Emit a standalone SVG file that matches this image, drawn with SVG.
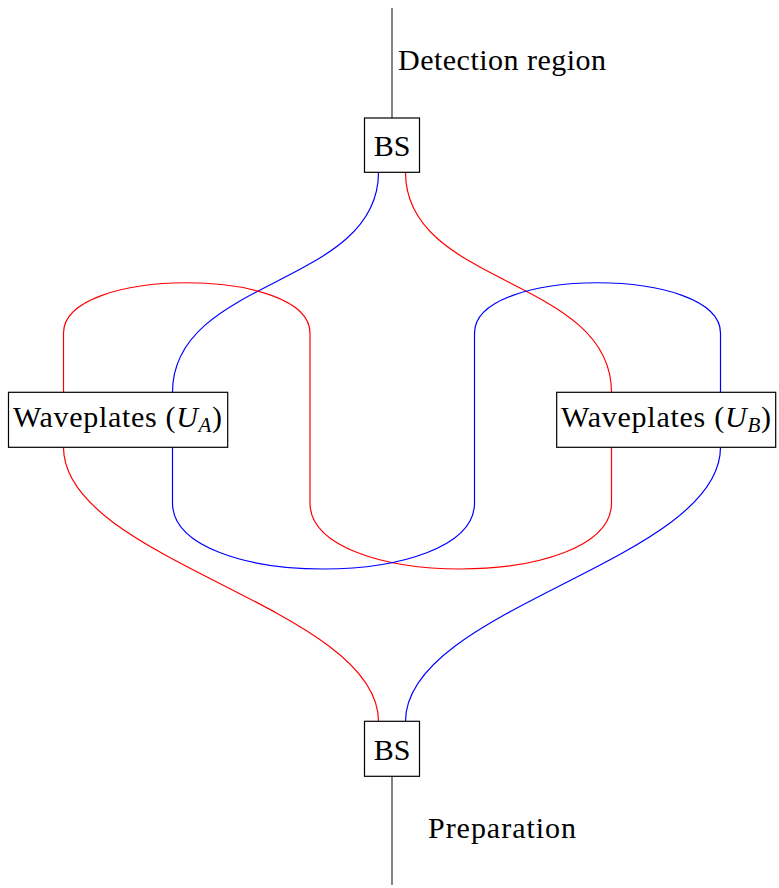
<svg xmlns="http://www.w3.org/2000/svg" width="779" height="888" viewBox="0 0 779 888">
<style>
.box{fill:#fff;stroke:#000;stroke-width:1.2}
.lbl{font-family:"Liberation Serif","Times New Roman",serif;font-size:30px;fill:#000}
.w{fill:none;stroke-width:1.2}
.r{stroke:#ff0000}
.b{stroke:#0000ff}
.k{stroke:#333;stroke-width:1.2;fill:none}
</style>
<rect width="779" height="888" fill="#fff"/>
<g id="connectors">
<path class="k" d="M392,8 V118"/>
<path class="k" d="M392,776.3 V885"/>
<path class="w b" d="M378.5,172.3 C378.5,287 172.5,277 172.5,392.3"/>
<path class="w r" d="M405.5,172.3 C405.5,287 611.5,277 611.5,392.3"/>
<path class="w r" d="M63.5,392.3 V333 C63.5,266 310,266 310,333 V503 C310,591 611.5,591 611.5,503 V447.3"/>
<path class="w b" d="M172.5,447.3 V503 C172.5,591 474.5,591 474.5,503 V333 C474.5,266 720.5,266 720.5,333 V392.3"/>
<path class="w r" d="M63.5,447.3 C63.5,561 378.5,607 378.5,721.3"/>
<path class="w b" d="M720.5,447.3 C720.5,561 405.5,607 405.5,721.3"/>
</g>
<g id="bs-top">
<rect class="box" x="364.5" y="118" width="55" height="54.3"/>
<text class="lbl" x="392" y="156" text-anchor="middle">BS</text>
</g>
<g id="bs-bottom">
<rect class="box" x="364.5" y="721.3" width="55" height="55"/>
<text class="lbl" x="392" y="759.5" text-anchor="middle">BS</text>
</g>
<g id="waveplates-a">
<rect class="box" x="8.5" y="392.3" width="219.2" height="55"/>
<text class="lbl" x="13" y="427" textLength="209" lengthAdjust="spacing">Waveplates (<tspan font-style="italic">U</tspan><tspan font-style="italic" font-size="21" dy="5">A</tspan><tspan dy="-5">)</tspan></text>
</g>
<g id="waveplates-b">
<rect class="box" x="556.7" y="392.3" width="219" height="55"/>
<text class="lbl" x="561" y="427" textLength="210" lengthAdjust="spacing">Waveplates (<tspan font-style="italic">U</tspan><tspan font-style="italic" font-size="21" dy="5">B</tspan><tspan dy="-5">)</tspan></text>
</g>
<g id="label-detection">
<text class="lbl" x="398" y="70" textLength="208" lengthAdjust="spacing">Detection region</text>
</g>
<g id="label-preparation">
<text class="lbl" x="428" y="838" textLength="148" lengthAdjust="spacing">Preparation</text>
</g>
</svg>
